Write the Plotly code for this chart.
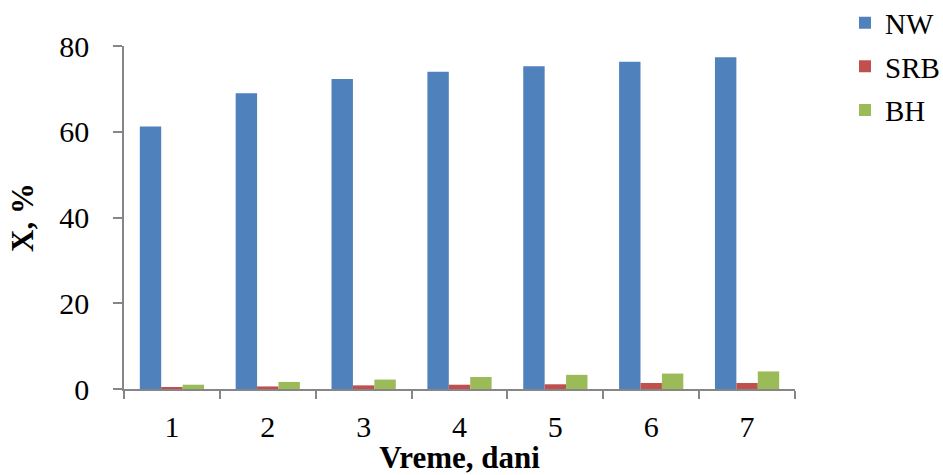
import plotly.graph_objects as go

days = ["1", "2", "3", "4", "5", "6", "7"]
nw = [61.2, 69.0, 72.3, 74.0, 75.3, 76.3, 77.4]
srb = [0.3, 0.6, 0.85, 1.0, 1.1, 1.4, 1.4]
bh = [1.0, 1.65, 2.2, 2.8, 3.3, 3.6, 4.1]

series = [("NW", nw, "#4F81BD"), ("SRB", srb, "#C0504D"), ("BH", bh, "#9BBB59")]

FONT = "Liberation Serif, Times New Roman, serif"
AXIS_COLOR = "#868686"

fig = go.Figure()
for i, (name, vals, color) in enumerate(series):
    fig.add_trace(go.Bar(
        x=days, y=vals, name=name, legendgroup=name,
        marker=dict(color=color, line=dict(width=0)),
    ))

fig.update_layout(
    width=943, height=475,
    margin=dict(l=124, r=148, t=46, b=86, autoexpand=False),
    paper_bgcolor="white", plot_bgcolor="white",
    barmode="group", bargap=0.33, bargroupgap=0,
    font=dict(family=FONT, color="black", size=30),
    legend=dict(
        x=845 / 943, y=1.142, xref="container", yref="paper",
        xanchor="left", yanchor="top",
        font=dict(family=FONT, size=29, color="black"),
        traceorder="grouped", tracegroupgap=3,
        bgcolor="rgba(0,0,0,0)",
    ),
    showlegend=True,
)

fig.update_xaxes(
    type="category",
    showline=True, linecolor=AXIS_COLOR, linewidth=1.5,
    ticks="outside", tickson="boundaries", ticklen=8, tickwidth=1.5, tickcolor=AXIS_COLOR,
    tickfont=dict(family=FONT, size=30, color="black"),
    ticklabelstandoff=10,
    showgrid=False, zeroline=False,
    title=dict(text="Vreme, dani", font=dict(family=FONT, size=31, color="black", weight="bold"), standoff=0),
)
fig.update_yaxes(
    range=[0, 80], dtick=20,
    showline=True, linecolor=AXIS_COLOR, linewidth=1.5,
    ticks="outside", ticklen=9, tickwidth=1.5, tickcolor=AXIS_COLOR,
    tickfont=dict(family=FONT, size=30, color="black"),
    ticklabelstandoff=18,
    showgrid=False, zeroline=False,
    title=dict(text="X, %", font=dict(family=FONT, size=31, color="black", weight="bold"), standoff=16),
)

fig.write_html("out.html")
